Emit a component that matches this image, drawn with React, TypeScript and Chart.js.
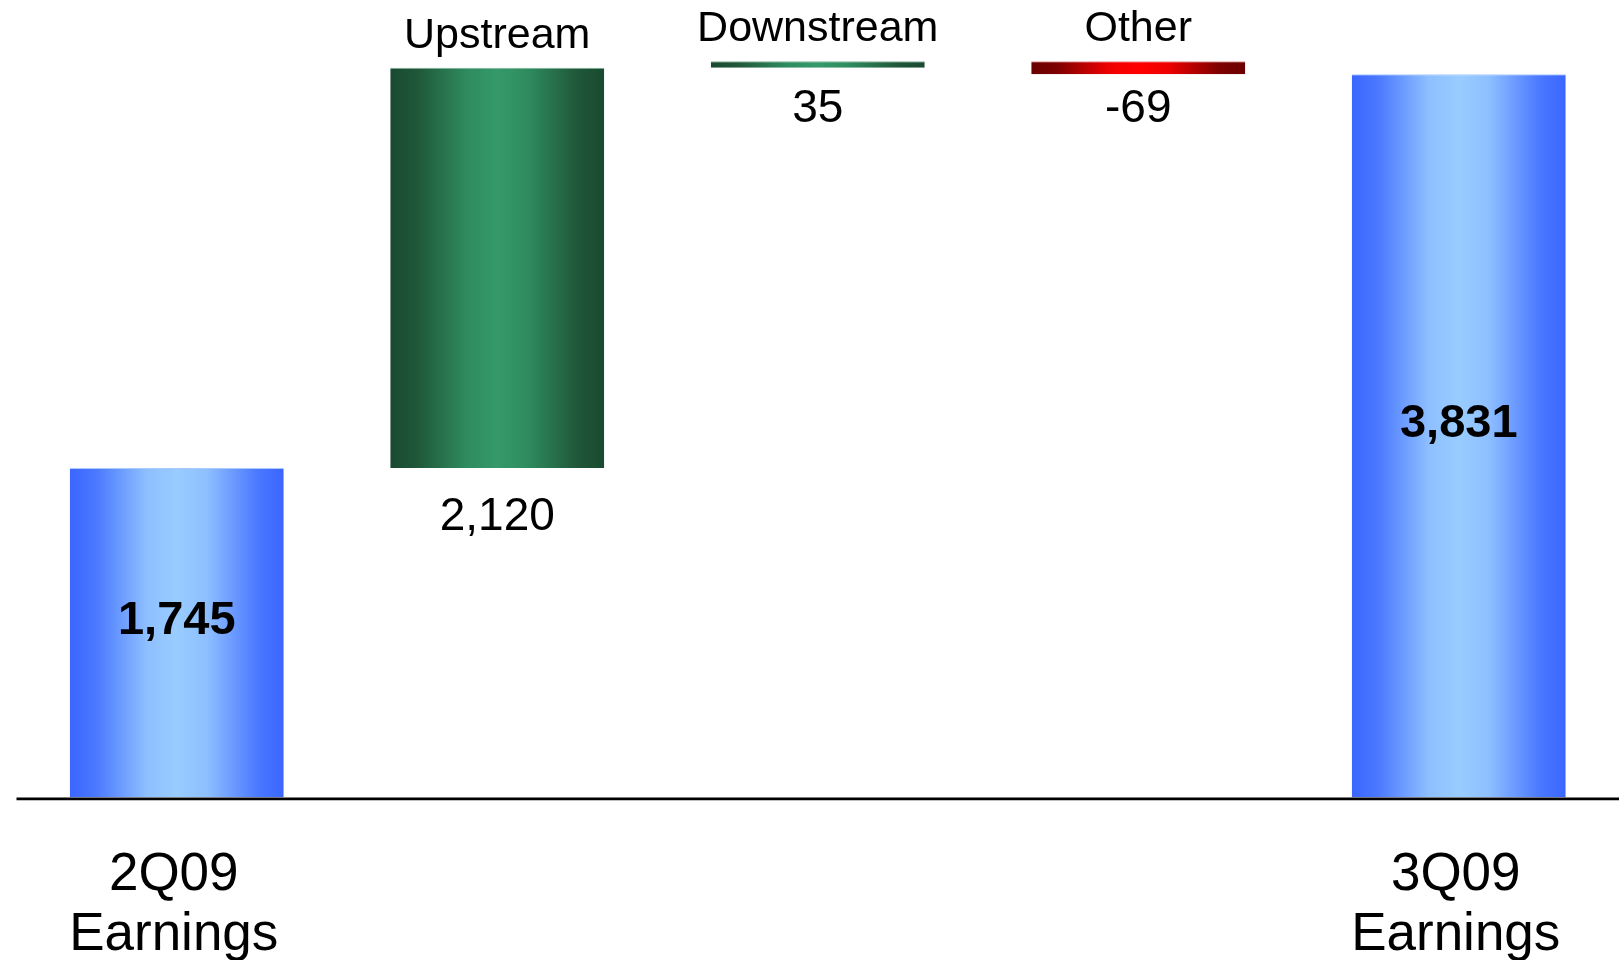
import React, { useEffect, useRef } from "react";
import { Chart, registerables } from "chart.js";

Chart.register(...registerables);

// ---- data ----
const categories = ["2Q09 Earnings", "Upstream", "Downstream", "Other", "3Q09 Earnings"];
const barKinds = ["total", "change", "change", "change", "total"];
const barValues = [1745, 2120, 35, -69, 3831];
const axisLabels = [["2Q09", "Earnings"], [], [], [], ["3Q09", "Earnings"]];
const topNames = ["", "Upstream", "Downstream", "Other", ""];
const yMin = 0;
const yMax = 4000;

// floating ranges built from values
const ranges: [number, number][] = (() => {
  const out: [number, number][] = [];
  let running = 0;
  barValues.forEach((v, i) => {
    if (barKinds[i] === "total") {
      out.push([0, v]);
      running = v;
    } else {
      out.push([running, running + v]);
      running += v;
    }
  });
  return out;
})();

const fmt = (v: number) => v.toLocaleString("en-US");

const BAR_PCT = 0.6677;
const FONT = "'Liberation Sans', Arial, Helvetica, sans-serif";

const palettes: Record<string, { edge: string; mid1: string; mid2: string; center: string; border: string }> = {
  total: { edge: "#3a66ff", mid1: "#4a78ff", mid2: "#8ebfff", center: "#99ccff", border: "#a9c9ff" },
  up: { edge: "#1a4a30", mid1: "#1f5638", mid2: "#2f8c5f", center: "#35996a", border: "#7fb39a" },
  down: { edge: "#6b0000", mid1: "#7d0000", mid2: "#ee0000", center: "#ff0000", border: "#e89090" },
};

function paletteFor(i: number) {
  if (barKinds[i] === "total") return palettes.total;
  return barValues[i] >= 0 ? palettes.up : palettes.down;
}

function App() {
  const ref = useRef<HTMLCanvasElement | null>(null);

  useEffect(() => {
    if (!ref.current) return;

    const labelPlugin = {
      id: "waterfallLabels",
      afterDatasetsDraw(chart: any) {
        const ctx = chart.ctx;
        const meta = chart.getDatasetMeta(0);
        const ys = chart.scales.y;
        const area = chart.chartArea;
        const zero = ys.getPixelForValue(0);

        // baseline axis
        ctx.save();
        ctx.strokeStyle = "#000";
        ctx.lineWidth = 2.6;
        ctx.beginPath();
        ctx.moveTo(area.left, zero + 1.4);
        ctx.lineTo(area.right, zero + 1.4);
        ctx.stroke();
        ctx.restore();

        meta.data.forEach((el: any, i: number) => {
          const top = Math.min(el.y, el.base);
          const bottom = Math.max(el.y, el.base);
          const cx = el.x;
          ctx.save();
          ctx.fillStyle = "#000";
          ctx.textAlign = "center";
          ctx.textBaseline = "alphabetic";
          if (barKinds[i] === "total") {
            ctx.font = `bold 47px ${FONT}`;
            ctx.fillText(fmt(barValues[i]), cx, (top + bottom) / 2 + 1);
            // category labels below axis
            ctx.font = `53px ${FONT}`;
            axisLabels[i].forEach((line, k) => {
              ctx.fillText(line, cx - 3, zero + 92 + k * 60.7);
            });
          } else {
            if (topNames[i]) {
              ctx.font = `43px ${FONT}`;
              ctx.fillText(topNames[i], cx, top - 20);
            }
            ctx.font = `46px ${FONT}`;
            const h = bottom - top;
            const y = h > 20 ? bottom + 62 : top + 61;
            ctx.fillText(fmt(barValues[i]), cx, y);
          }
          ctx.restore();
        });
      },
    };

    const chart = new Chart(ref.current, {
      type: "bar",
      data: {
        labels: categories,
        datasets: [
          {
            data: ranges as any,
            barPercentage: BAR_PCT,
            categoryPercentage: 1,
            borderSkipped: false,
            borderWidth: { top: 1, left: 0, right: 0, bottom: 0 } as any,
            borderColor: (c: any) => (c.dataIndex === undefined ? "#fff" : paletteFor(c.dataIndex).border),
            backgroundColor: (c: any) => {
              const chart = c.chart;
              const xs = chart.scales?.x;
              if (c.dataIndex === undefined) return "#3a66ff";
              const p = paletteFor(c.dataIndex);
              if (!chart.chartArea || !xs) return p.center;
              const center = xs.getPixelForValue(c.dataIndex);
              const w = (xs.width / categories.length) * BAR_PCT;
              const g = chart.ctx.createLinearGradient(center - w / 2, 0, center + w / 2, 0);
              g.addColorStop(0, p.edge);
              g.addColorStop(0.12, p.mid1);
              g.addColorStop(0.36, p.mid2);
              g.addColorStop(0.5, p.center);
              g.addColorStop(0.64, p.mid2);
              g.addColorStop(0.88, p.mid1);
              g.addColorStop(1, p.edge);
              return g;
            },
          },
        ],
      },
      options: {
        responsive: false,
        animation: false,
        events: [],
        layout: { padding: { left: 16.5, right: 0, top: 42.3, bottom: 162.5 } },
        plugins: {
          legend: { display: false },
          tooltip: { enabled: false },
          title: { display: false },
        },
        scales: {
          x: { type: "category", display: false, offset: true, grid: { display: false } },
          y: { display: false, min: yMin, max: yMax, grid: { display: false } },
        },
      },
      plugins: [labelPlugin],
    });

    return () => chart.destroy();
  }, []);

  return (
    <div style={{ position: "absolute", left: 0, top: 0, width: 1619, height: 960, background: "#fff" }}>
      <canvas ref={ref} width={1619} height={960} style={{ display: "block", width: 1619, height: 960 }} />
    </div>
  );
}

export default App;
